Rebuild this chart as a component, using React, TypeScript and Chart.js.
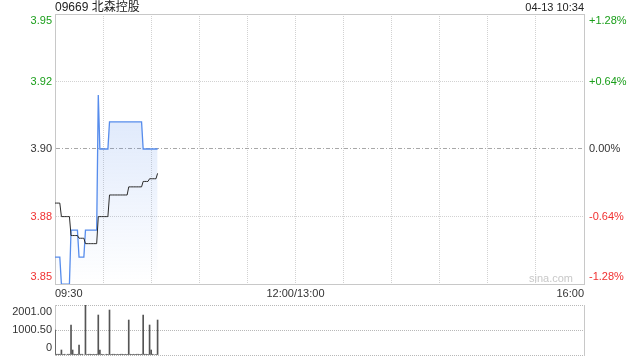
import { useEffect, useRef } from 'react';
import { Chart, registerables } from 'chart.js';

Chart.register(...registerables);

const FONT = '"Liberation Sans", Arial, "Noto Sans CJK SC", sans-serif';

const stockTitle = '09669 北森控股';
const stampText = '04-13 10:34';
const watermark = 'sina.com';

const prevClose = 3.9;
const pctTicks = [-1.28, -0.64, 0, 0.64, 1.28];
const priceTickValues = pctTicks.map((p) => prevClose * (1 + p / 100));

const totalMinutes = 330;
const xTickMinutes = [0, 30, 60, 90, 120, 150, 180, 210, 240, 270, 300, 330];
const xTickLabels = ['09:30', '', '', '', '', '12:00/13:00', '', '', '', '', '', '16:00'];

// one value per trading minute from 09:30 to 10:34
const minutePrices = [
  3.86, 3.86, 3.86, 3.86,
  3.85, 3.85, 3.85, 3.85, 3.85, 3.85,
  3.87, 3.87, 3.87, 3.87, 3.87,
  3.86, 3.86, 3.86, 3.86,
  3.87, 3.87, 3.87, 3.87, 3.87, 3.87, 3.87, 3.87,
  3.92,
  3.9, 3.9, 3.9, 3.9, 3.9, 3.9,
  3.91, 3.91, 3.91, 3.91, 3.91, 3.91, 3.91, 3.91, 3.91, 3.91, 3.91,
  3.91, 3.91, 3.91, 3.91, 3.91, 3.91, 3.91, 3.91, 3.91, 3.91,
  3.9, 3.9, 3.9, 3.9, 3.9, 3.9, 3.9, 3.9, 3.9, 3.9,
];

const avgPrices = [
  3.88, 3.88, 3.88, 3.88,
  3.875, 3.875, 3.875, 3.875, 3.875, 3.875,
  3.868, 3.868, 3.868, 3.868, 3.868,
  3.867, 3.867, 3.867, 3.867,
  3.865, 3.865, 3.865, 3.865, 3.865, 3.865, 3.865, 3.865,
  3.875, 3.875, 3.875, 3.875, 3.875, 3.875, 3.875,
  3.883, 3.883, 3.883, 3.883, 3.883, 3.883, 3.883, 3.883, 3.883, 3.883, 3.883, 3.883,
  3.886, 3.886, 3.886, 3.886, 3.886, 3.886, 3.886, 3.886, 3.886,
  3.888, 3.888, 3.888, 3.888,
  3.889, 3.889, 3.889, 3.889, 3.889,
  3.891,
];

const volumes = [
  1000, 30, 30, 30, 200, 30, 30, 0, 30, 30,
  1200, 200, 30, 30, 30, 400, 30, 30, 0, 2001,
  30, 30, 30, 30, 30, 30, 30, 1600, 200, 30,
  30, 0, 30, 30, 1800, 30, 30, 30, 30, 30,
  30, 30, 30, 30, 30, 30, 1400, 30, 30, 30,
  30, 30, 30, 30, 30, 1600, 30, 30, 30, 1200,
  200, 30, 0, 30, 1400,
];
const volTicks = [0, 1000.5, 2001];

const UP = '#1a9e1a';
const DOWN = '#f03030';
const TEXT = '#333333';
const GRID = '#d2d2d2';
const BORDER = '#c8c8c8';

const edgeLabel = (text: string, i: number, n: number) => {
  if (i === 0) return [text, ''];
  if (i === n - 1) return ['', text];
  return text;
};

export default function App() {
  const priceRef = useRef<HTMLCanvasElement>(null);
  const volRef = useRef<HTMLCanvasElement>(null);

  useEffect(() => {
    Chart.defaults.font.family = FONT;
    Chart.defaults.font.size = 11;

    const colorByIndex = (ctx: any) => (ctx.index < 2 ? DOWN : ctx.index === 2 ? TEXT : UP);

    const priceChart = new Chart(priceRef.current!, {
      type: 'line',
      data: {
        datasets: [
          {
            label: 'avg',
            data: avgPrices.map((v, i) => ({ x: i, y: v })),
            borderColor: '#2a2a2a',
            borderWidth: 1,
            pointRadius: 0,
            fill: false,
            yAxisID: 'y',
          },
          {
            label: 'price',
            data: minutePrices.map((v, i) => ({ x: i, y: v })),
            borderColor: 'rgb(86,140,236)',
            borderWidth: 1.3,
            pointRadius: 0,
            fill: 'start',
            yAxisID: 'y',
            backgroundColor: (ctx: any) => {
              const chart = ctx.chart;
              const area = chart.chartArea;
              if (!area) return 'rgba(0,0,0,0)';
              const g = chart.ctx.createLinearGradient(0, area.top, 0, area.bottom);
              g.addColorStop(0, 'rgba(86,140,236,0.3)');
              g.addColorStop(1, 'rgba(86,140,236,0)');
              return g;
            },
          },
        ],
      },
      options: {
        responsive: false,
        animation: false,
        events: [],
        layout: { padding: { top: 14, left: 0, right: 0, bottom: 0 } },
        plugins: { legend: { display: false }, tooltip: { enabled: false } },
        scales: {
          x: {
            type: 'linear',
            min: 0,
            max: totalMinutes,
            afterBuildTicks: (s: any) => {
              s.ticks = xTickMinutes.map((v) => ({ value: v }));
            },
            ticks: {
              autoSkip: false,
              maxRotation: 0,
              align: 'inner',
              padding: 3,
              color: TEXT,
              callback: (_v: any, i: number) => xTickLabels[i],
            },
            grid: { color: GRID, drawTicks: false },
            border: { color: BORDER, dash: [1, 1] },
            afterFit: (s: any) => {
              s.height = 16;
              s.paddingLeft = 0;
              s.paddingRight = 0;
            },
          },
          y: {
            position: 'left',
            min: priceTickValues[0],
            max: priceTickValues[priceTickValues.length - 1],
            afterBuildTicks: (s: any) => {
              s.ticks = priceTickValues.map((v) => ({ value: v }));
            },
            ticks: {
              autoSkip: false,
              padding: 3,
              color: colorByIndex,
              callback: (v: any, i: number) => edgeLabel(Number(v).toFixed(2), i, priceTickValues.length),
            },
            grid: {
              drawTicks: false,
              color: (ctx: any) => (ctx.index === 2 ? '#a8a8a8' : ctx.index === 4 ? BORDER : GRID),
            },
            border: {
              color: BORDER,
              dash: (ctx: any) => (ctx.index === 2 ? [4, 2, 1, 2] : ctx.index === 4 ? [] : [1, 1]),
            },
            afterFit: (s: any) => {
              s.width = 55;
              s.paddingTop = 0;
              s.paddingBottom = 0;
            },
          },
          y1: {
            type: 'linear',
            position: 'right',
            display: true,
            min: pctTicks[0],
            max: pctTicks[pctTicks.length - 1],
            afterBuildTicks: (s: any) => {
              s.ticks = pctTicks.map((v) => ({ value: v }));
            },
            ticks: {
              autoSkip: false,
              padding: 5,
              color: colorByIndex,
              callback: (v: any, i: number) => {
                const n = Number(v);
                const t = (n > 0 ? '+' : '') + n.toFixed(2) + '%';
                return edgeLabel(t, i, pctTicks.length);
              },
            },
            grid: { drawOnChartArea: false, drawTicks: false },
            border: { color: BORDER },
            afterFit: (s: any) => {
              s.width = 56;
              s.paddingTop = 0;
              s.paddingBottom = 0;
            },
          },
        },
      },
    } as any);

    const volChart = new Chart(volRef.current!, {
      type: 'bar',
      data: {
        datasets: [
          {
            label: 'volume',
            data: volumes.map((v, i) => ({ x: i, y: v })),
            backgroundColor: '#555555',
            borderWidth: 0,
            barThickness: 1,
          },
        ],
      },
      options: {
        responsive: false,
        animation: false,
        events: [],
        layout: { padding: { top: 9, bottom: 5, left: 0, right: 0 } },
        plugins: { legend: { display: false }, tooltip: { enabled: false } },
        scales: {
          x: {
            type: 'linear',
            min: 0,
            max: totalMinutes,
            offset: false,
            display: false,
            grid: { offset: false },
          },
          y: {
            type: 'linear',
            position: 'left',
            display: true,
            min: 0,
            max: volTicks[volTicks.length - 1],
            afterBuildTicks: (s: any) => {
              s.ticks = volTicks.map((v) => ({ value: v }));
            },
            ticks: {
              autoSkip: false,
              padding: 3,
              color: TEXT,
              callback: (v: any, i: number) => {
                const n = Number(v);
                return edgeLabel(n === 0 ? '0' : n.toFixed(2), i, volTicks.length);
              },
            },
            grid: { display: true, drawOnChartArea: true, drawTicks: false, color: '#b8b8b8', lineWidth: 1 },
            border: { display: true, color: BORDER, dash: [1, 1] },
            afterFit: (s: any) => {
              s.width = 55;
              s.paddingTop = 0;
              s.paddingBottom = 0;
            },
          },
          yR: {
            type: 'linear',
            position: 'right',
            display: true,
            min: 0,
            max: 1,
            ticks: { display: false },
            grid: { drawOnChartArea: false, drawTicks: false },
            border: { color: BORDER },
            afterFit: (s: any) => {
              s.width = 56;
              s.paddingTop = 0;
              s.paddingBottom = 0;
            },
          },
        },
      },
    } as any);

    return () => {
      priceChart.destroy();
      volChart.destroy();
    };
  }, []);

  return (
    <div
      style={{
        position: 'fixed',
        left: 0,
        top: 0,
        width: 640,
        height: 360,
        background: '#fff',
        fontFamily: FONT,
        overflow: 'hidden',
      }}
    >
      <canvas
        ref={priceRef}
        width={640}
        height={300}
        style={{ position: 'absolute', left: 0, top: 0, width: 640, height: 300 }}
      />
      <canvas
        ref={volRef}
        width={640}
        height={64}
        style={{ position: 'absolute', left: 0, top: 296, width: 640, height: 64 }}
      />
      <div style={{ position: 'absolute', left: 55, top: 0, fontSize: 12, lineHeight: '14px', color: '#222', whiteSpace: 'nowrap' }}>
        {stockTitle}
      </div>
      <div style={{ position: 'absolute', right: 56, top: 0, fontSize: 11, lineHeight: '14px', color: '#222', whiteSpace: 'nowrap' }}>
        {stampText}
      </div>
      <div style={{ position: 'absolute', right: 67, top: 271, fontSize: 11, lineHeight: '14px', color: '#c8c8c8', whiteSpace: 'nowrap' }}>
        {watermark}
      </div>
    </div>
  );
}
